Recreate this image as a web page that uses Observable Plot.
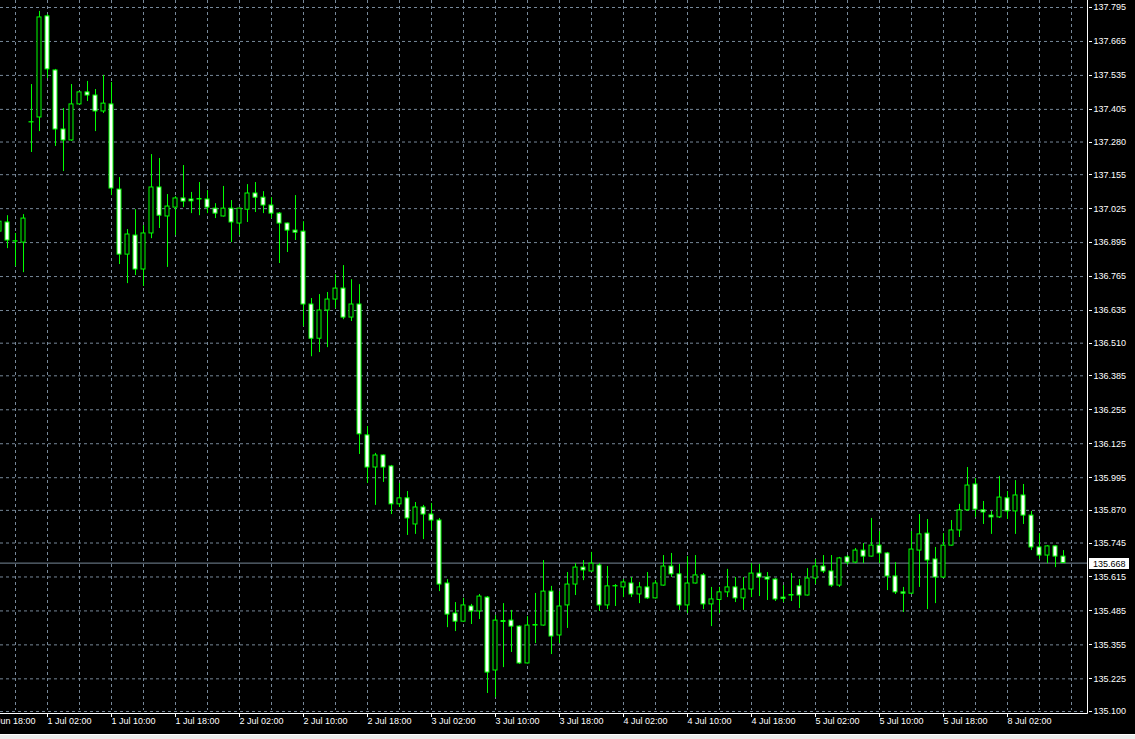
<!DOCTYPE html>
<html><head><meta charset="utf-8">
<script src="https://cdn.jsdelivr.net/npm/d3@7"></script>
<script src="https://cdn.jsdelivr.net/npm/@observablehq/plot@0.6"></script>
<style>
html,body{margin:0;padding:0;background:#000;overflow:hidden}
#chart svg{display:block}
</style></head><body><div id="chart"></div>
<script>
// Hourly candles, first one = 30 Jun 20:00 (partly hidden at the left edge), last = 8 Jul 09:00
const opens = [136.937,136.972,136.899,136.895,137.355,137.374,137.761,137.554,137.328,137.286,
137.424,137.470,137.458,137.397,137.424,137.098,136.849,136.922,136.792,136.930,
137.106,136.995,137.029,137.064,137.060,137.060,137.060,137.025,136.995,137.025,
136.968,137.021,137.083,137.067,137.037,137.006,136.968,136.941,136.937,136.658,
136.527,136.635,136.677,136.719,136.608,136.658,136.157,136.034,136.080,136.038,
135.893,135.916,135.816,135.881,135.854,135.831,135.590,135.475,135.444,135.502,
135.483,135.536,135.257,135.446,135.448,135.425,135.284,135.429,135.429,135.559,
135.391,135.506,135.586,135.651,135.636,135.659,135.506,135.579,135.575,135.590,
135.548,135.575,135.533,135.582,135.655,135.625,135.506,135.590,135.621,135.510,
135.527,135.556,135.575,135.533,135.567,135.628,135.613,135.605,135.536,135.544,
135.579,135.544,135.609,135.655,135.636,135.582,135.690,135.670,135.716,135.693,
135.735,135.705,135.617,135.556,135.551,135.716,135.781,135.682,135.613,135.735,
135.793,135.870,135.969,135.870,135.850,135.843,135.916,135.866,135.927,135.850,
135.728,135.697,135.732,135.693];
const highs = [136.991,136.998,136.930,137.002,137.500,137.780,137.768,137.558,137.408,137.500,
137.472,137.512,137.481,137.535,137.508,137.144,136.945,137.021,136.960,137.232,
137.217,137.079,137.071,137.190,137.087,137.125,137.094,137.044,137.110,137.056,
137.027,137.117,137.125,137.090,137.067,137.010,136.970,137.075,136.975,136.681,
136.696,136.704,136.772,136.807,136.753,136.734,136.191,136.088,136.082,136.042,
135.973,135.942,135.900,135.889,135.896,135.839,135.605,135.517,135.533,135.510,
135.548,135.540,135.467,135.513,135.487,135.428,135.463,135.552,135.678,135.579,
135.559,135.632,135.666,135.678,135.709,135.666,135.655,135.586,135.605,135.613,
135.594,135.632,135.601,135.697,135.705,135.663,135.693,135.697,135.628,135.575,
135.575,135.644,135.613,135.613,135.666,135.663,135.632,135.609,135.582,135.628,
135.605,135.647,135.682,135.697,135.697,135.690,135.697,135.724,135.743,135.839,
135.789,135.709,135.670,135.575,135.789,135.854,135.835,135.728,135.781,135.831,
135.893,136.034,135.992,135.904,135.866,136.000,135.942,135.984,135.969,135.866,
135.781,135.735,135.734,135.716];
const lows = [136.903,136.872,136.803,136.780,137.240,137.320,137.523,137.263,137.167,137.283,
137.422,137.435,137.320,137.389,137.075,136.811,136.738,136.769,136.727,136.910,
136.949,136.800,136.922,137.029,137.006,136.998,137.006,136.987,136.993,136.895,
136.922,136.972,137.010,137.006,136.987,136.815,136.857,136.903,136.573,136.458,
136.474,136.493,136.642,136.600,136.593,136.084,135.973,135.889,135.977,135.854,
135.881,135.774,135.778,135.758,135.793,135.559,135.421,135.406,135.442,135.433,
135.452,135.169,135.153,135.268,135.326,135.280,135.282,135.360,135.427,135.318,
135.360,135.418,135.544,135.601,135.634,135.483,135.490,135.502,135.536,135.536,
135.513,135.529,135.531,135.580,135.613,135.487,135.475,135.588,135.490,135.425,
135.475,135.536,135.517,135.487,135.536,135.540,135.525,135.521,135.517,135.521,
135.494,135.542,135.586,135.628,135.575,135.575,135.659,135.666,135.666,135.691,
135.666,135.563,135.548,135.479,135.548,135.575,135.490,135.513,135.611,135.733,
135.766,135.866,135.843,135.816,135.778,135.839,135.835,135.778,135.816,135.716,
135.682,135.666,135.651,135.668];
const closes = [136.975,136.903,136.900,136.987,137.356,137.757,137.558,137.328,137.286,137.424,
137.470,137.458,137.397,137.427,137.102,136.849,136.926,136.792,136.930,137.106,
136.998,137.033,137.064,137.052,137.053,137.062,137.029,137.006,137.025,136.972,
137.025,137.083,137.067,137.037,137.006,136.968,136.941,136.933,136.658,136.527,
136.635,136.677,136.719,136.608,136.658,136.161,136.034,136.080,136.034,135.893,
135.916,135.839,135.881,135.854,135.831,135.586,135.471,135.444,135.506,135.483,
135.540,135.249,135.448,135.443,135.425,135.284,135.429,135.431,135.559,135.387,
135.502,135.586,135.651,135.640,135.666,135.506,135.579,135.580,135.594,135.548,
135.575,135.533,135.590,135.655,135.625,135.506,135.590,135.621,135.510,135.529,
135.556,135.575,135.533,135.567,135.628,135.613,135.605,135.529,135.531,135.546,
135.544,135.609,135.655,135.636,135.582,135.686,135.670,135.716,135.693,135.735,
135.705,135.617,135.556,135.551,135.720,135.778,135.678,135.613,135.735,135.793,
135.870,135.965,135.873,135.862,135.843,135.919,135.866,135.927,135.850,135.728,
135.697,135.732,135.693,135.668];

const priceTicks = [137.795,137.665,137.535,137.405,137.280,137.155,137.025,136.895,136.765,136.635,
136.510,136.385,136.255,136.125,135.995,135.870,135.745,135.615,135.485,135.355,135.225,135.100];
const timeLabels = ["30 Jun 18:00","1 Jul 02:00","1 Jul 10:00","1 Jul 18:00","2 Jul 02:00","2 Jul 10:00",
"2 Jul 18:00","3 Jul 02:00","3 Jul 10:00","3 Jul 18:00","4 Jul 02:00","4 Jul 10:00","4 Jul 18:00",
"5 Jul 02:00","5 Jul 10:00","5 Jul 18:00","8 Jul 02:00"];
const firstLabelBar = -2;   // bar offset of "30 Jun 18:00" relative to first candle
const barsPerLabel = 8;
const firstGridBar = 2;
const barsPerGrid = 4;
const bidPrice = 135.668;

const candles = opens.map((o, j) => ({j, open: o, high: highs[j], low: lows[j], close: closes[j]}));
const labelBars = timeLabels.map((_, k) => firstLabelBar + k * barsPerLabel);
const gridBars = d3.range(firstGridBar, opens.length + 2, barsPerGrid);

const LIME = "#00ff00", GRID = "#778899", FONT = "'Liberation Sans', Arial, sans-serif";

const frameDecor = (index, scales, values, dims) => {
  const g = d3.create("svg:g");
  const right = dims.width - dims.marginRight;
  const bottom = dims.height - dims.marginBottom + 2;
  g.append("line").attr("x1", 0).attr("x2", right + 0.5).attr("y1", bottom + 0.5).attr("y2", bottom + 0.5).attr("stroke", "#fff");
  g.append("line").attr("x1", right + 0.5).attr("x2", right + 0.5).attr("y1", 0).attr("y2", bottom + 0.5).attr("stroke", "#fff");
  for (const b of labelBars) {
    const x = Math.round(scales.x(b)) + 0.5;
    g.append("line").attr("x1", x).attr("x2", x).attr("y1", bottom).attr("y2", bottom + 4).attr("stroke", "#fff");
  }
  for (const p of priceTicks) {
    const y = Math.round(scales.y(p)) + 0.5;
    g.append("line").attr("x1", right + 2).attr("x2", right + 5).attr("y1", y).attr("y2", y).attr("stroke", "#fff");
  }
  const py = Math.round(scales.y(bidPrice));
  g.append("rect").attr("x", right + 2).attr("y", py - 5).attr("width", 40).attr("height", 11).attr("fill", "#fff");
  g.append("text").attr("x", right + 6).attr("y", py + 0.5).attr("dy", "0.35em").attr("text-anchor", "start")
    .attr("fill", "#000").attr("font-size", 9).attr("font-family", FONT).text(bidPrice.toFixed(3));
  g.append("line").attr("x1", 0).attr("x2", dims.width).attr("y1", dims.height - 4.5).attr("y2", dims.height - 4.5).attr("stroke", "#fff");
  g.append("rect").attr("x", 0).attr("y", dims.height - 4).attr("width", dims.width).attr("height", 4).attr("fill", "#ececec");
  return g.node();
};

const chart = Plot.plot({
  width: 1135,
  height: 739,
  marginLeft: 0,
  marginRight: 48,
  marginTop: 7,
  marginBottom: 28,
  style: {background: "#000", color: "#fff", fontFamily: FONT, overflow: "hidden"},
  x: {type: "linear", domain: [0.125, 0.125 + 1087 / 8], axis: null},
  y: {type: "linear", domain: [135.100, 137.795], axis: null},
  marks: [
    Plot.ruleX(gridBars, {x: d => d, stroke: GRID, strokeDasharray: "3,3", insetTop: -7, insetBottom: 1}),
    Plot.ruleY(priceTicks, {y: d => d, stroke: GRID, strokeDasharray: "3,3", insetRight: 3}),
    Plot.ruleY([bidPrice], {y: d => d, stroke: GRID}),
    Plot.ruleX(candles, {x: "j", y1: "low", y2: "high", stroke: LIME}),
    Plot.rect(candles, {
      x1: d => d.j - 0.25, x2: d => d.j + 0.25, y1: "open", y2: "close",
      fill: d => d.close < d.open ? "#fff" : "#000", stroke: LIME, strokeWidth: 1
    }),
    Plot.text(priceTicks, {y: d => d, text: d => d.toFixed(3), frameAnchor: "right", dx: 6,
      textAnchor: "start", fill: "#fff", fontSize: 9}),
    Plot.text(labelBars, {x: d => d, text: (d, i) => timeLabels[i], frameAnchor: "bottom", dy: 12, dx: 0,
      textAnchor: "start", fill: "#fff", fontSize: 9}),
    frameDecor
  ]
});
document.getElementById("chart").append(chart);
</script></body></html>
